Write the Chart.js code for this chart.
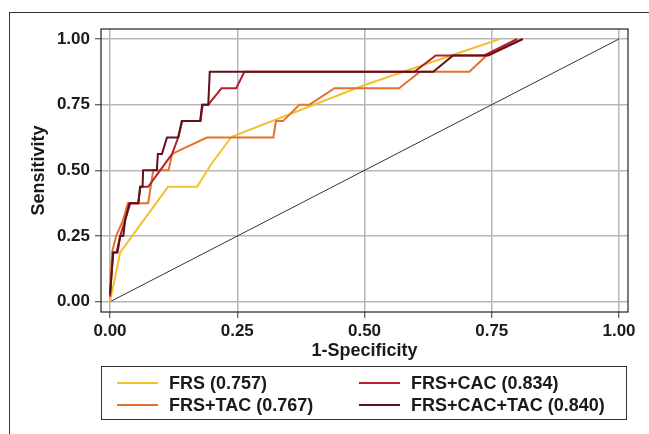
<!DOCTYPE html>
<html>
<head>
<meta charset="utf-8">
<script src="https://cdn.jsdelivr.net/npm/chart.js@4"></script>
<style>
  html, body { margin: 0; padding: 0; background: #fff; }
  body { width: 649px; height: 434px; position: relative; overflow: hidden; font-family: 'Liberation Sans', Arial, sans-serif; }
  #frame { position: absolute; left: 9px; top: 12px; width: 700px; height: 500px; border-left: 1px solid #333; border-top: 1px solid #333; }
  #wrap { position: absolute; left: 0; top: 0; width: 649px; height: 434px; }
  #legend { position: absolute; left: 101px; top: 366px; width: 526px; height: 54px; border: 1px solid #333; box-sizing: border-box; }
  .item { position: absolute; height: 22px; font-weight: bold; font-size: 18px; color: #1a1a1a; line-height: 22px; white-space: nowrap; }
  .item span.swatch { position: absolute; left: 0; top: 10px; width: 41px; height: 2px; }
  .item span.label { position: absolute; left: 52px; top: 0; }
</style>
</head>
<body>
<div id="frame"></div>
<div id="wrap"><canvas id="roc" width="649" height="434"></canvas></div>
<div id="legend"></div>
<script>
const seriesNames = ['FRS (0.757)', 'FRS+TAC (0.767)', 'FRS+CAC (0.834)', 'FRS+CAC+TAC (0.840)'];
const seriesColors = ['#f2c12e', '#e2732f', '#b5202b', '#5e1219'];
const tickValues = [0, 0.25, 0.5, 0.75, 1];

const frsFpr = [0, 0.02, 0.114, 0.171, 0.2, 0.239, 0.5, 0.766];
const frsTpr = [0, 0.1875, 0.4375, 0.4375, 0.527, 0.628, 0.825, 1];

const tacFpr = [0, 0.004, 0.012, 0.026, 0.035, 0.075, 0.085, 0.115, 0.122, 0.19, 0.321, 0.326, 0.34, 0.372, 0.392, 0.441, 0.568, 0.609, 0.706, 0.74, 0.811];
const tacTpr = [0.02, 0.1875, 0.25, 0.3125, 0.375, 0.375, 0.5, 0.5, 0.5625, 0.625, 0.625, 0.6875, 0.6875, 0.75, 0.75, 0.8125, 0.8125, 0.875, 0.875, 0.9375, 1];

const cacFpr = [0, 0.006, 0.015, 0.02, 0.03, 0.04, 0.055, 0.06, 0.075, 0.122, 0.134, 0.142, 0.178, 0.182, 0.193, 0.219, 0.248, 0.264, 0.598, 0.64, 0.735, 0.8];
const cacTpr = [0.02, 0.1875, 0.1875, 0.25, 0.3125, 0.375, 0.375, 0.4375, 0.4375, 0.5625, 0.625, 0.6875, 0.6875, 0.75, 0.75, 0.8125, 0.8125, 0.875, 0.875, 0.9375, 0.9375, 1];

const allFpr = [0, 0.0065, 0.013, 0.02, 0.026, 0.03, 0.038, 0.056, 0.059, 0.064, 0.065, 0.092, 0.094, 0.102, 0.112, 0.134, 0.141, 0.177, 0.181, 0.193, 0.196, 0.635, 0.674, 0.743, 0.811];
const allTpr = [0.03, 0.1875, 0.1875, 0.25, 0.25, 0.3125, 0.375, 0.375, 0.4375, 0.4375, 0.5, 0.5, 0.5625, 0.5625, 0.625, 0.625, 0.6875, 0.6875, 0.75, 0.75, 0.875, 0.875, 0.9375, 0.9375, 1];

const refLine = [0, 1];

const toPoints = (xs, ys) => xs.map((x, i) => ({ x: x, y: ys[i] }));
const curves = [[frsFpr, frsTpr], [tacFpr, tacTpr], [cacFpr, cacTpr], [allFpr, allTpr]];

const datasets = curves.map((c, i) => ({
  label: seriesNames[i],
  data: toPoints(c[0], c[1]),
  borderColor: seriesColors[i],
  borderWidth: 2,
  pointRadius: 0,
  showLine: true,
  tension: 0,
  order: 4 - i,
}));
datasets.push({
  label: 'reference',
  data: toPoints(refLine, refLine),
  borderColor: '#333',
  borderWidth: 1,
  pointRadius: 0,
  showLine: true,
  order: 10,
});

const boxPlugin = {
  id: 'plotBox',
  afterDraw(chart) {
    const a = chart.chartArea;
    const ctx = chart.ctx;
    ctx.save();
    ctx.strokeStyle = '#222';
    ctx.lineWidth = 1.2;
    ctx.strokeRect(a.left, a.top, a.right - a.left, a.bottom - a.top);
    ctx.restore();
  },
};

const tickFont = { family: "'Liberation Sans', Arial, sans-serif", size: 17, weight: 'bold' };
const titleFont = { family: "'Liberation Sans', Arial, sans-serif", size: 18, weight: 'bold' };
const setTicks = (scale) => { scale.ticks = tickValues.map(v => ({ value: v })); };

new Chart(document.getElementById('roc').getContext('2d'), {
  type: 'scatter',
  data: { datasets: datasets },
  options: {
    responsive: false,
    animation: false,
    events: [],
    layout: { padding: { left: 20, top: 29, right: 21, bottom: 72 } },
    plugins: { legend: { display: false }, tooltip: { enabled: false } },
    scales: {
      x: {
        type: 'linear',
        min: -0.0177,
        max: 1.0177,
        afterBuildTicks: setTicks,
        afterFit: (scale) => { scale.height = 50; },
        border: { display: false },
        grid: { color: '#b8b8b8', lineWidth: 1.5, tickColor: '#333', tickLength: 6, tickWidth: 1 },
        ticks: { color: '#1a1a1a', font: tickFont, padding: 3, maxRotation: 0, callback: (v) => v.toFixed(2) },
        title: { display: true, text: '1-Specificity', color: '#1a1a1a', font: titleFont, padding: 0 },
      },
      y: {
        type: 'linear',
        min: -0.039,
        max: 1.038,
        afterBuildTicks: setTicks,
        afterFit: (scale) => { scale.width = 81; },
        border: { display: false },
        grid: { color: '#b8b8b8', lineWidth: 1.5, tickColor: '#333', tickLength: 6, tickWidth: 1 },
        ticks: { color: '#1a1a1a', font: tickFont, padding: 5, callback: (v) => v.toFixed(2) },
        title: { display: true, text: 'Sensitivity', color: '#1a1a1a', font: titleFont, padding: { top: 8, bottom: 0 } },
      },
    },
  },
  plugins: [boxPlugin],
});

// legend box below the plot
const legendEl = document.getElementById('legend');
const legendSlots = [[15, 5], [15, 27], [257, 5], [257, 27]];
const legendOrder = [0, 1, 2, 3];
legendOrder.forEach((s, i) => {
  const item = document.createElement('div');
  item.className = 'item';
  item.style.left = legendSlots[i][0] + 'px';
  item.style.top = legendSlots[i][1] + 'px';
  item.innerHTML = '<span class="swatch" style="background:' + seriesColors[s] + '"></span><span class="label">' + seriesNames[s] + '</span>';
  legendEl.appendChild(item);
});
</script>
</body>
</html>
